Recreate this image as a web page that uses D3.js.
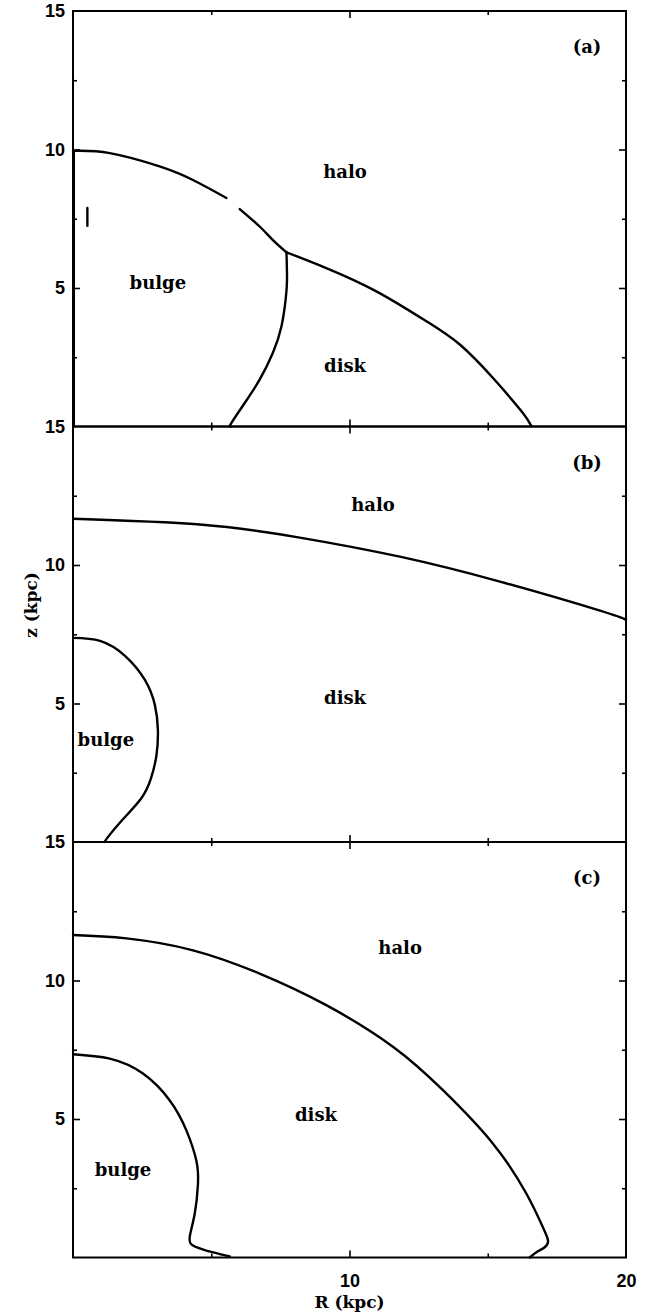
<!DOCTYPE html>
<html>
<head>
<meta charset="utf-8">
<script src="https://cdn.jsdelivr.net/npm/d3@7"></script>
<style>
  body { margin: 0; background: #fff; }
  .words { font-family: "DejaVu Serif", serif; font-weight: bold; }
  .nums { font-family: "Liberation Sans", Arial, sans-serif; font-weight: bold; }
</style>
</head>
<body>
<div id="chart"></div>
<script>
// ---- data (R, z in kpc) ----

// panel (a)
const aBulgeHalo1 = [[0, 9.95], [1.33, 9.87], [3.13, 9.39], [4.34, 8.9], [5.55, 8.25]]
const aBulgeHalo2 = [[6.03, 7.85], [6.75, 7.22], [7.23, 6.73], [7.72, 6.29]]
const aBulgeDisk = [[7.72, 6.29], [7.74, 5.3], [7.69, 4.58], [7.54, 3.62], [7.23, 2.66],
                    [6.75, 1.69], [6.21, 0.85], [5.73, 0.13], [5.7, 0]]
const aDiskHalo = [[7.72, 6.29], [9.16, 5.72], [10.97, 4.88], [12.78, 3.8], [14.0, 2.95],
                   [15.19, 1.75], [16.17, 0.61], [16.5, 0.15], [16.58, 0.02]]
const aAxisEdge = [[0.03, 9.95], [0.03, 0]]
const aStub = [[0.52, 7.89], [0.52, 7.25]]

// panel (b)
const bDiskHalo = [[0, 11.67], [4.59, 11.46], [8.2, 10.99], [11.82, 10.3], [15.44, 9.4],
                   [19.06, 8.35], [20, 8.02]]
const bBulge = [[0, 7.37], [0.98, 7.26], [1.88, 6.72], [2.6, 5.85], [2.96, 4.95], [3.07, 4.05],
                [3.02, 3.14], [2.82, 2.3], [2.45, 1.55], [1.75, 0.76], [1.24, 0.15], [1.15, 0]]

// panel (c)
const cDiskHalo = [[0, 11.64], [1.93, 11.52], [4.34, 11.09], [6.75, 10.25], [9.16, 9.11],
                   [11.57, 7.61], [13.38, 6.04], [15.19, 4.11], [16.4, 2.3], [16.99, 1.1],
                   [17.18, 0.61], [17.06, 0.37], [16.76, 0.19], [16.52, 0]]
const cBulge = [[0, 7.34], [1.33, 7.18], [2.53, 6.64], [3.5, 5.67], [4.1, 4.59], [4.46, 3.5],
                [4.52, 2.66], [4.4, 1.57], [4.22, 0.73], [4.34, 0.43], [4.82, 0.25], [5.67, 0.04]]

const panelCurves = [
    [aBulgeHalo1, aBulgeHalo2, aBulgeDisk, aDiskHalo, aAxisEdge, aStub],
    [bDiskHalo, bBulge],
    [cDiskHalo, cBulge]
]

// region names and where they sit (R, z)
const panelTags = ['(a)', '(b)', '(c)']
const regionNames = [['halo', 'bulge', 'disk'], ['halo', 'disk', 'bulge'], ['halo', 'disk', 'bulge']]
const regionR = [[9.84, 3.07, 9.84], [10.85, 9.84, 1.19], [11.83, 8.79, 1.81]]
const regionZ = [[9.2, 5.19, 2.2], [12.2, 5.2, 3.69], [11.2, 5.17, 3.18]]

// ticks
const xMajor = [10]
const xMinor = [5, 15]
const yMajor = [5, 10]
const yMinor = [2.5, 7.5, 12.5]
const yLabels = [5, 10, 15]
const xLabels = [10, 20]

// ---- layout ----
const W = 652, H = 1314
const left = 73, right = 626
const top0 = 11, ph = 415.5

const svg = d3.select('#chart')
    .append('svg')
    .attr('width', W)
    .attr('height', H)

const x = d3.scaleLinear().domain([0, 20]).range([left, right])

const line = d3.line()
    .x(d => x(d[0]))
    .curve(d3.curveNatural)

function styleAxis(sel) {
    sel.select('.domain').remove()
    sel.selectAll('.tick line').attr('stroke', '#000').attr('stroke-width', 1.6)
    sel.selectAll('.tick text').remove()
}

panelCurves.forEach((curves, i) => {
    const y = d3.scaleLinear().domain([0, 15]).range([top0 + (i + 1) * ph, top0 + i * ph])
    const g = svg.append('g')

    // inward ticks, all four sides
    const ax = [
        [d3.axisBottom, xMajor, 7, `translate(0,${y(15)})`, x],
        [d3.axisBottom, xMinor, 4, `translate(0,${y(15)})`, x],
        [d3.axisTop, xMajor, 7, `translate(0,${y(0)})`, x],
        [d3.axisTop, xMinor, 4, `translate(0,${y(0)})`, x],
        [d3.axisRight, yMajor, 7, `translate(${left},0)`, y],
        [d3.axisRight, yMinor, 4, `translate(${left},0)`, y],
        [d3.axisLeft, yMajor, 7, `translate(${right},0)`, y],
        [d3.axisLeft, yMinor, 4, `translate(${right},0)`, y]
    ]
    ax.forEach(([fn, vals, len, tr, sc]) => {
        g.append('g')
            .attr('transform', tr)
            .call(fn(sc).tickValues(vals).tickSize(len))
            .call(styleAxis)
    })

    // frame
    g.append('rect')
        .attr('x', left)
        .attr('y', y(15))
        .attr('width', right - left)
        .attr('height', y(0) - y(15))
        .attr('fill', 'none')
        .attr('stroke', '#000')
        .attr('stroke-width', 2)

    // y labels
    const yl = g.append('g')
        .attr('transform', `translate(${left},0)`)
        .call(d3.axisLeft(y).tickValues(yLabels).tickSize(0).tickPadding(8))
    yl.select('.domain').remove()
    yl.selectAll('text')
        .attr('class', 'nums')
        .attr('font-size', 18)
        .attr('fill', '#000')

    // boundaries
    g.selectAll('path.curve')
        .data(curves)
        .enter()
        .append('path')
        .attr('class', 'curve')
        .attr('d', line.y(d => y(d[1])))
        .attr('fill', 'none')
        .attr('stroke', '#000')
        .attr('stroke-width', 2.4)
        .attr('stroke-linecap', 'round')
        .attr('stroke-linejoin', 'round')

    // region names
    g.selectAll('text.region')
        .data(regionNames[i])
        .enter()
        .append('text')
        .attr('class', 'region words')
        .attr('x', (d, j) => x(regionR[i][j]))
        .attr('y', (d, j) => y(regionZ[i][j]))
        .attr('text-anchor', 'middle')
        .attr('dominant-baseline', 'central')
        .attr('font-size', 18)
        .text(d => d)

    g.append('text')
        .attr('class', 'words')
        .attr('x', x(18.59))
        .attr('y', y(13.71))
        .attr('text-anchor', 'middle')
        .attr('dominant-baseline', 'central')
        .attr('font-size', 18)
        .text(panelTags[i])

    // x labels on bottom panel
    if (i === panelCurves.length - 1) {
        const xl = g.append('g')
            .attr('transform', `translate(0,${y(0)})`)
            .call(d3.axisBottom(x).tickValues(xLabels).tickSize(0).tickPadding(17))
        xl.select('.domain').remove()
        xl.selectAll('text')
            .attr('class', 'nums')
            .attr('font-size', 18)
            .attr('fill', '#000')
    }
})

// axis titles
svg.append('text')
    .attr('class', 'words')
    .attr('x', x(10))
    .attr('y', 1302)
    .attr('text-anchor', 'middle')
    .attr('dominant-baseline', 'central')
    .attr('font-size', 17)
    .text('R (kpc)')

svg.append('text')
    .attr('class', 'words')
    .attr('transform', 'translate(31,605) rotate(-90)')
    .attr('text-anchor', 'middle')
    .attr('dominant-baseline', 'central')
    .attr('font-size', 17)
    .text('z (kpc)')
</script>
</body>
</html>
